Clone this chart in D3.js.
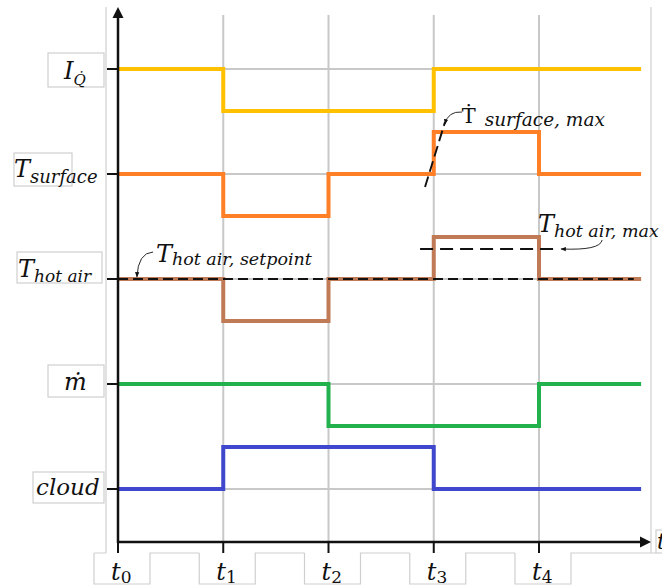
<!DOCTYPE html>
<html>
<head>
<meta charset="utf-8">
<script src="https://cdn.jsdelivr.net/npm/d3@7"></script>
<style>
  body { margin: 0; background: #fff; }
  svg { display: block; }
  .lbl { font-family: "DejaVu Serif", serif; font-style: italic; fill: #111; }
</style>
</head>
<body>
<div id="chart"></div>
<script>
// time edges of the signal segments (t0 .. t4, end of plot)
const timeEdges = [0, 1, 2, 3, 4, 4.97];
const tickLabels = ["0", "1", "2", "3", "4"];

// signal rows, top to bottom, and their level (0 = nominal, +1 up, -1 down) per segment
const signalNames = ["IQ", "Tsurface", "Thotair", "mdot", "cloud"];
const signalRows = [4, 3, 2, 1, 0];
const signalColors = ["#ffc000", "#ff7f27", "#c17a56", "#22b14c", "#3f48cc"];
const IQ = [0, -1, -1, 0, 0];
const Tsurface = [0, -1, 0, 1, 0];
const Thotair = [0, -1, 0, 1, 0];
const mdot = [0, 0, -1, -1, 0];
const cloud = [0, 1, 1, 0, 0];
const signalValues = [IQ, Tsurface, Thotair, mdot, cloud];
const stepSize = 0.4;

// reference lines (in time / row units)
const setpointLine = [[0, 2], [4.9, 2]];
const maxLine = [[2.87, 2.286], [4.19, 2.286]];
const slopeLine = [[2.917, 2.876], [3.107, 3.495]];

const W = 662, H = 587;
const x = d3.scaleLinear().domain([0, 5]).range([118, 644.25]);
const y = d3.scaleLinear().domain([0, 4]).range([489, 69]);
const axisY = 542, frameBottom = 553;

const svg = d3.select("#chart").append("svg")
    .attr("width", W)
    .attr("height", H);

svg.append("defs").append("marker")
    .attr("id", "ah")
    .attr("viewBox", "0 0 10 10")
    .attr("refX", 9).attr("refY", 5)
    .attr("markerWidth", 6).attr("markerHeight", 6)
    .attr("orient", "auto-start-reverse")
    .append("path")
    .attr("d", "M0,1 L10,5 L0,9 Z")
    .attr("fill", "#111");

const grey = "#cfcfcf";

// outer text-box frame
svg.append("line").attr("x1", 106).attr("x2", 106).attr("y1", 7).attr("y2", frameBottom)
    .attr("stroke", grey).attr("stroke-width", 1.2);
svg.append("line").attr("x1", 651).attr("x2", 651).attr("y1", 7).attr("y2", frameBottom)
    .attr("stroke", grey).attr("stroke-width", 1.2);

// tick label boxes along the bottom
const boxL = d => x(d) - 24, boxR = d => x(d) + 32;
let p = `M${boxL(0)},${frameBottom}H106`;
tickLabels.forEach((_, i) => {
    p += `M${boxL(i)},${frameBottom}V584H${boxR(i)}V${frameBottom}`;
    p += `H${i < 4 ? boxL(i + 1) : 656}`;
});
svg.append("path").attr("d", p).attr("fill", "none").attr("stroke", grey).attr("stroke-width", 1.2);
svg.append("rect").attr("x", 656).attr("y", 530).attr("width", 20).attr("height", 23)
    .attr("fill", "none").attr("stroke", grey).attr("stroke-width", 1.2);

// row label boxes
const rowBoxes = [[48, 53, 56, 34], [14, 153, 58, 33], [17, 252, 85, 31], [48, 365, 56, 32], [33, 472, 71, 31]];
svg.selectAll("rect.rowbox")
    .data(rowBoxes)
    .enter()
    .append("rect")
    .attr("x", d => d[0]).attr("y", d => d[1])
    .attr("width", d => d[2]).attr("height", d => d[3])
    .attr("fill", "#fff").attr("stroke", grey).attr("stroke-width", 1.2);

// grid
svg.selectAll("line.vg")
    .data([1, 2, 3, 4])
    .enter()
    .append("line")
    .attr("x1", d => x(d)).attr("x2", d => x(d))
    .attr("y1", 15).attr("y2", axisY)
    .attr("stroke", "#c8c8c8").attr("stroke-width", 2);
svg.selectAll("line.hg")
    .data(signalRows)
    .enter()
    .append("line")
    .attr("x1", x(0)).attr("x2", x(timeEdges[5]))
    .attr("y1", d => y(d)).attr("y2", d => y(d))
    .attr("stroke", "#c8c8c8").attr("stroke-width", 2);

// signals
const line = d3.line()
    .x(d => x(d[0]))
    .y(d => y(d[1]))
    .curve(d3.curveStepAfter);

signalValues.forEach((vals, k) => {
    const pts = timeEdges.map((t, i) => [t, signalRows[k] + stepSize * vals[Math.min(i, vals.length - 1)]]);
    svg.append("path")
        .attr("d", line(pts))
        .attr("fill", "none")
        .attr("stroke", signalColors[k])
        .attr("stroke-width", 4);
});

// dashed reference lines
const straight = d3.line().x(d => x(d[0])).y(d => y(d[1]));
svg.append("path").attr("d", straight(setpointLine))
    .attr("stroke", "#111").attr("stroke-width", 1.8).attr("stroke-dasharray", "10,5").attr("fill", "none");
svg.append("path").attr("d", straight(maxLine))
    .attr("stroke", "#111").attr("stroke-width", 1.9).attr("stroke-dasharray", "13,7").attr("fill", "none");
svg.append("path").attr("d", straight(slopeLine))
    .attr("stroke", "#111").attr("stroke-width", 1.9).attr("stroke-dasharray", "11,5").attr("fill", "none");

// annotation arrows (start, control, end)
const arrows = [
    [[0.333, 2.257], [0.19, 2.25], [0.18, 2.019]],
    [[3.268, 3.59], [3.135, 3.6], [3.107, 3.476]],
    [[4.6, 2.371], [4.58, 2.27], [4.209, 2.286]]
];
arrows.forEach(a => {
    svg.append("path")
        .attr("d", `M${x(a[0][0])},${y(a[0][1])}Q${x(a[1][0])},${y(a[1][1])} ${x(a[2][0])},${y(a[2][1])}`)
        .attr("fill", "none").attr("stroke", "#111").attr("stroke-width", 0.9)
        .attr("marker-end", "url(#ah)");
});

// axes
svg.append("line").attr("x1", x(0)).attr("x2", x(0)).attr("y1", 16).attr("y2", axisY + 1)
    .attr("stroke", "#111").attr("stroke-width", 2.5);
svg.append("path").attr("d", `M${x(0)},7L${x(0) - 5.5},18L${x(0) + 5.5},18Z`).attr("fill", "#111");
svg.append("line").attr("x1", x(0)).attr("x2", 642).attr("y1", axisY).attr("y2", axisY)
    .attr("stroke", "#111").attr("stroke-width", 2.5);
svg.append("path").attr("d", `M651,${axisY}L640,${axisY - 5.5}L640,${axisY + 5.5}Z`).attr("fill", "#111");

svg.selectAll("line.yt")
    .data(signalRows)
    .enter()
    .append("line")
    .attr("x1", 107).attr("x2", x(0))
    .attr("y1", d => y(d)).attr("y2", d => y(d))
    .attr("stroke", "#111").attr("stroke-width", 2);
svg.selectAll("line.xt")
    .data(tickLabels)
    .enter()
    .append("line")
    .attr("x1", (d, i) => x(i)).attr("x2", (d, i) => x(i))
    .attr("y1", axisY).attr("y2", frameBottom)
    .attr("stroke", "#111").attr("stroke-width", 2);

// tick labels
tickLabels.forEach((s, i) => {
    const t = svg.append("text").attr("class", "lbl")
        .attr("x", x(i) - 7).attr("y", 580).attr("font-size", 24);
    t.append("tspan").text("t");
    t.append("tspan").attr("dy", 3).attr("font-style", "normal").attr("font-size", 17).text(s);
});
svg.append("text").attr("class", "lbl").attr("x", 657).attr("y", 549).attr("font-size", 22).text("t");

// row labels
function sub(main, subtxt, px, py, mSize, sSize, dy) {
    const t = svg.append("text").attr("class", "lbl").attr("x", px).attr("y", py).attr("font-size", mSize);
    t.append("tspan").text(main);
    t.append("tspan").attr("dy", dy).attr("font-size", sSize).text(subtxt);
    return t;
}
sub("I", "Q\u0307", 64, y(4) + 10, 24, 15, 6);
sub("T", "surface", 14, y(3) + 3, 24, 18, 6);
sub("T", "hot air", 18, y(2) - 2, 24, 17, 5);
svg.append("text").attr("class", "lbl").attr("x", 64).attr("y", y(1) + 6).attr("font-size", 24).text("\u1E41");
svg.append("text").attr("class", "lbl").attr("x", 36).attr("y", y(0) + 6).attr("font-size", 23).text("cloud");

// annotation labels
sub("T", "hot air, setpoint", x(0.36), y(2.158), 24, 17.5, 3);
const td = svg.append("text").attr("class", "lbl").attr("x", x(3.265)).attr("y", y(3.49)).attr("font-size", 21);
td.append("tspan").attr("font-style", "normal").text("\u1E6A");
td.append("tspan").attr("dx", 9).attr("dy", 3).attr("font-size", 18.5).text("surface, max");
sub("T", "hot air, max", x(3.99), y(2.45), 24, 17.5, 5);
</script>
</body>
</html>
